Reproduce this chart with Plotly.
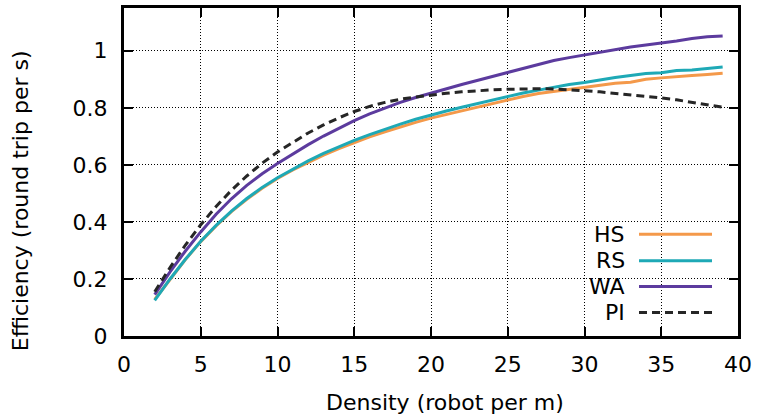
import plotly.graph_objects as go

density = list(range(2, 40))

hs = [0.128, 0.200, 0.268, 0.331, 0.386, 0.436, 0.479, 0.518, 0.552, 0.582,
      0.609, 0.634, 0.657, 0.678, 0.698, 0.716, 0.733, 0.749, 0.764, 0.777,
      0.790, 0.803, 0.815, 0.827, 0.840, 0.850, 0.857, 0.864, 0.871, 0.878,
      0.886, 0.890, 0.900, 0.905, 0.910, 0.913, 0.917, 0.921]
rs = [0.125, 0.200, 0.269, 0.332, 0.388, 0.438, 0.482, 0.521, 0.555, 0.586,
      0.614, 0.640, 0.664, 0.686, 0.706, 0.725, 0.743, 0.760, 0.775, 0.789,
      0.802, 0.815, 0.828, 0.840, 0.852, 0.862, 0.873, 0.882, 0.889, 0.898,
      0.906, 0.913, 0.920, 0.923, 0.931, 0.933, 0.937, 0.943]
wa = [0.145, 0.225, 0.298, 0.365, 0.427, 0.481, 0.528, 0.569, 0.605, 0.639,
      0.671, 0.701, 0.729, 0.755, 0.779, 0.800, 0.819, 0.836, 0.852, 0.867,
      0.882, 0.896, 0.910, 0.924, 0.940, 0.953, 0.966, 0.976, 0.985, 0.995,
      1.005, 1.013, 1.020, 1.026, 1.034, 1.043, 1.049, 1.052]
pi = [0.155, 0.240, 0.319, 0.390, 0.454, 0.511, 0.561, 0.606, 0.645, 0.680,
      0.712, 0.740, 0.765, 0.787, 0.805, 0.819, 0.830, 0.838, 0.845, 0.851,
      0.856, 0.860, 0.863, 0.865, 0.867, 0.867, 0.866, 0.864, 0.860, 0.856,
      0.851, 0.846, 0.840, 0.835, 0.828, 0.820, 0.812, 0.802]

series_names = ["HS", "RS", "WA", "PI"]
series_values = [hs, rs, wa, pi]
colors = ["#f4994a", "#1ea9b6", "#5c3b9e", "#262626"]
dashes = ["solid", "solid", "solid", "8px,5px"]

x_ticks = [0, 5, 10, 15, 20, 25, 30, 35, 40]
y_ticks = [0, 0.2, 0.4, 0.6, 0.8, 1.0]
y_tick_labels = ["0", "0.2", "0.4", "0.6", "0.8", "1"]

FONT = "DejaVu Sans"
FS = 22
W, H = 757, 417
ML, MR, MT, MB = 124, 19, 5, 81
PW, PH = W - ML - MR, H - MT - MB


def px(x):
    return (x - ML) / PW


def py(y):
    return (H - MB - y) / PH


fig = go.Figure()
for name, vals, c, d in zip(series_names, series_values, colors, dashes):
    fig.add_trace(go.Scatter(x=density, y=vals, mode="lines", name=name,
                             line=dict(color=c, width=3, dash=d),
                             showlegend=False))

axis_common = dict(
    showline=True, linecolor="black", linewidth=3, mirror="allticks",
    ticks="inside", ticklen=9, tickwidth=2, tickcolor="black",
    showgrid=True, gridcolor="black", gridwidth=1, griddash="1px,2px",
    zeroline=False, tickfont=dict(family=FONT, size=FS, color="black"),
)

fig.update_xaxes(range=[0, 40], tickvals=x_ticks, ticklabelstandoff=7,
                 **axis_common)
fig.update_yaxes(range=[0, 1.15], tickvals=y_ticks, ticktext=y_tick_labels,
                 ticklabelstandoff=9, **axis_common)

# legend box (hides grid)
fig.add_shape(type="rect", xref="paper", yref="paper",
              x0=px(586), x1=px(723), y0=py(330), y1=py(220),
              fillcolor="white", line=dict(width=0), layer="between")

row_y = [233.3, 260, 286, 312.3]
for name, c, d, ry in zip(series_names, colors, dashes, row_y):
    fig.add_annotation(xref="paper", yref="paper", x=px(627), y=py(ry),
                       text=name, showarrow=False, xanchor="right",
                       yanchor="middle",
                       font=dict(family=FONT, size=FS, color="black"))
    fig.add_shape(type="line", xref="paper", yref="paper",
                  x0=px(639), x1=px(712), y0=py(ry), y1=py(ry),
                  line=dict(color=c, width=3, dash=d), layer="above")

fig.add_annotation(xref="paper", yref="paper", x=px(445), y=py(403),
                   text="Density (robot per m)", showarrow=False,
                   xanchor="center", yanchor="middle",
                   font=dict(family=FONT, size=FS, color="black"))
fig.add_annotation(xref="paper", yref="paper", x=px(20), y=py(200),
                   text="Efficiency (round trip per s)", showarrow=False,
                   textangle=-90, xanchor="center", yanchor="middle",
                   font=dict(family=FONT, size=FS, color="black"))

fig.update_layout(width=W, height=H, margin=dict(l=ML, r=MR, t=MT, b=MB),
                  plot_bgcolor="white", paper_bgcolor="white",
                  font=dict(family=FONT, size=FS, color="black"))

fig.write_html("out.html")
